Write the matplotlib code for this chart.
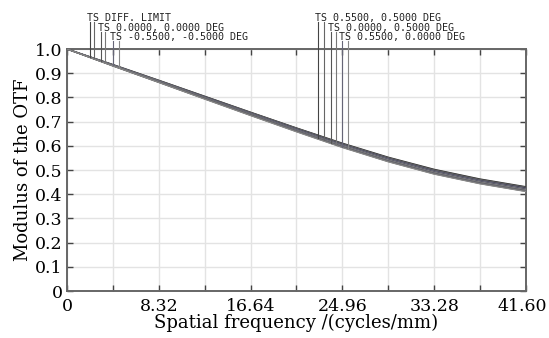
import matplotlib
matplotlib.use("Agg")
import matplotlib.pyplot as plt
import matplotlib.transforms as mtransforms
import numpy as np

# ---- data ----
freq = [0, 4.16, 8.32, 12.48, 16.64, 20.80, 24.96, 29.12, 33.28, 37.44, 41.60]

diff_t   = [1.0, 0.936, 0.871, 0.805, 0.739, 0.674, 0.611, 0.553, 0.503, 0.463, 0.431]
diff_s   = [1.0, 0.935, 0.870, 0.804, 0.738, 0.673, 0.609, 0.551, 0.501, 0.461, 0.429]
f00_t    = [1.0, 0.934, 0.869, 0.802, 0.736, 0.671, 0.607, 0.549, 0.498, 0.458, 0.427]
f00_s    = [1.0, 0.934, 0.868, 0.802, 0.735, 0.670, 0.606, 0.548, 0.497, 0.457, 0.426]
fmm_t    = [1.0, 0.933, 0.867, 0.800, 0.733, 0.667, 0.603, 0.545, 0.494, 0.454, 0.422]
fmm_s    = [1.0, 0.933, 0.866, 0.799, 0.732, 0.666, 0.602, 0.544, 0.493, 0.453, 0.421]
fpp_t    = [1.0, 0.932, 0.865, 0.798, 0.730, 0.664, 0.600, 0.541, 0.490, 0.450, 0.418]
fpp_s    = [1.0, 0.932, 0.865, 0.797, 0.729, 0.663, 0.599, 0.540, 0.489, 0.449, 0.417]
f0p_t    = [1.0, 0.931, 0.864, 0.796, 0.728, 0.662, 0.597, 0.538, 0.487, 0.447, 0.415]
f0p_s    = [1.0, 0.931, 0.863, 0.795, 0.727, 0.661, 0.596, 0.537, 0.486, 0.446, 0.414]
fp0_t    = [1.0, 0.930, 0.862, 0.794, 0.726, 0.659, 0.594, 0.535, 0.484, 0.444, 0.412]
fp0_s    = [1.0, 0.930, 0.862, 0.793, 0.725, 0.658, 0.593, 0.534, 0.483, 0.443, 0.411]

series = [diff_t, diff_s, f00_t, f00_s, fmm_t, fmm_s,
          fpp_t, fpp_s, f0p_t, f0p_s, fp0_t, fp0_s]
colors = ['#333333', '#555555', '#777777', '#444455', '#888899', '#555566',
          '#666666', '#999999', '#444444', '#777788', '#555555', '#888888']

labels_left = ["TS DIFF. LIMIT", "TS 0.0000, 0.0000 DEG", "TS -0.5500, -0.5000 DEG"]
labels_right = ["TS 0.5500, 0.5000 DEG", "TS 0.0000, 0.5000 DEG", "TS 0.5500, 0.0000 DEG"]
lead_x_left = [2.08, 2.48, 3.06, 3.45, 4.14, 4.69]
lead_x_right = [22.75, 23.29, 23.93, 24.38, 24.92, 25.47]
lead_top = [1.112, 1.112, 1.072, 1.072, 1.032, 1.032]

x_major = [0, 8.32, 16.64, 24.96, 33.28, 41.60]
x_major_labels = ["0", "8.32", "16.64", "24.96", "33.28", "41.60"]
x_minor = [4.16, 12.48, 20.80, 29.12, 37.44]
y_ticks = [0, 0.1, 0.2, 0.3, 0.4, 0.5, 0.6, 0.7, 0.8, 0.9, 1.0]
y_tick_labels = ["0", "0.1", "0.2", "0.3", "0.4", "0.5", "0.6", "0.7", "0.8", "0.9", "1.0"]

# ---- figure ----
fig = plt.figure(figsize=(5.49, 3.38), dpi=100)
ax = fig.add_axes([0.122, 0.139, 0.836, 0.716])

for s, c in zip(series, colors):
    ax.plot(freq, s, color=c, lw=0.9, zorder=3)

ax.set_xlim(0, 41.6)
ax.set_ylim(0, 1.0)

ax.set_xticks(x_major)
ax.set_xticklabels(x_major_labels)
ax.set_xticks(x_minor, minor=True)
ax.set_yticks(y_ticks)
ax.set_yticklabels(y_tick_labels)

ax.grid(True, which='both', color='#e3e3e3', lw=1.0, zorder=0)
ax.set_axisbelow(True)

ax.tick_params(which='both', direction='in', length=4, width=1.0, color='#444444',
               top=True, right=True, labelsize=12.5)
ax.tick_params(axis='x', which='both', pad=5)
ax.tick_params(axis='y', which='both', pad=3)
for lab in ax.get_xticklabels() + ax.get_yticklabels():
    lab.set_family('DejaVu Serif')

# nudge the last x label so it stays inside the canvas
last = ax.get_xticklabels()[-1]
last.set_transform(last.get_transform() +
                   mtransforms.ScaledTranslation(-4 / 100, 0, fig.dpi_scale_trans))

for sp in ax.spines.values():
    sp.set_color('#666666')
    sp.set_linewidth(1.4)

ax.set_xlabel("Spatial frequency /(cycles/mm)", family='DejaVu Serif', fontsize=13, labelpad=-1)
ax.set_ylabel("Modulus of the OTF", family='DejaVu Serif', fontsize=13, labelpad=2)

# leader lines to the curves
def curve_at(xv, s):
    return float(np.interp(xv, freq, s))

lead_colors = ['#444444', '#666666', '#555555', '#777777', '#666677', '#888888']
for i, xv in enumerate(lead_x_left):
    s = series[i]
    ax.plot([xv, xv], [curve_at(xv, s), lead_top[i]], color=lead_colors[i], lw=0.8,
            clip_on=False, zorder=4)
for i, xv in enumerate(lead_x_right):
    s = series[6 + i]
    ax.plot([xv, xv], [curve_at(xv, s), lead_top[i]], color=lead_colors[i], lw=0.8,
            clip_on=False, zorder=4)

for k in range(3):
    ax.text(lead_x_left[2 * k] - 0.28, lead_top[2 * k] - 0.005, labels_left[k],
            family='DejaVu Sans Mono', fontsize=7.2, va='bottom', ha='left', color='#222222')
    ax.text(lead_x_right[2 * k] - 0.28, lead_top[2 * k] - 0.005, labels_right[k],
            family='DejaVu Sans Mono', fontsize=7.2, va='bottom', ha='left', color='#222222')

fig.savefig("out.png", dpi=100)
